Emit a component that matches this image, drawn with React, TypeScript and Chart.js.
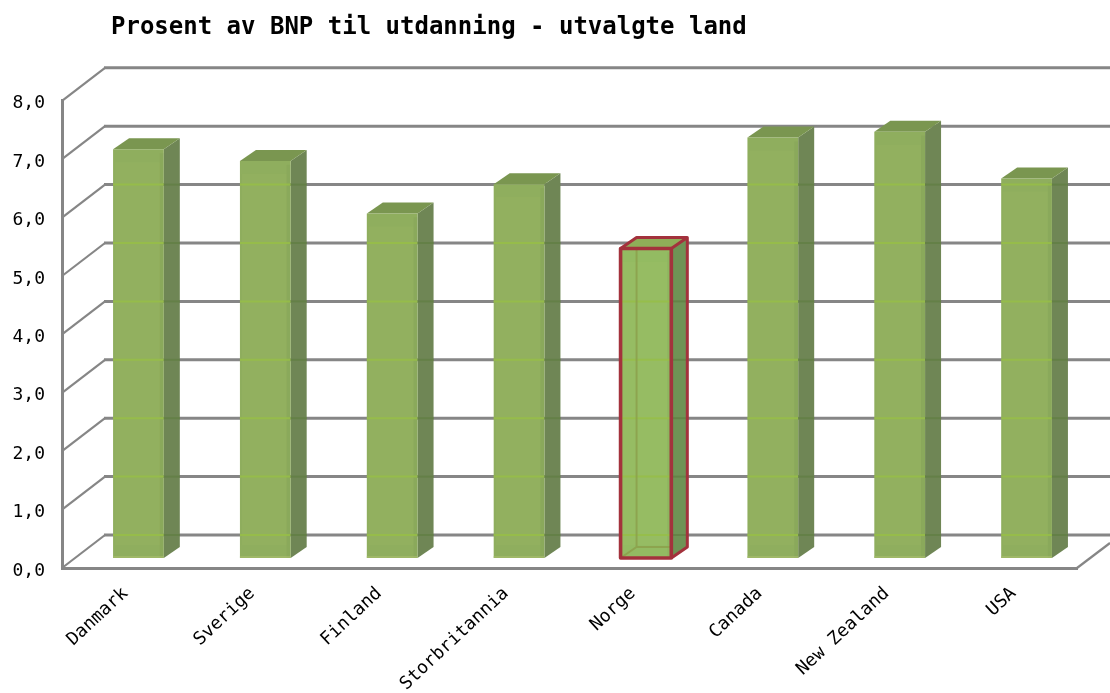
import React, { useEffect, useRef } from "react";
import { Chart, registerables } from "chart.js";

Chart.register(...registerables);

const TITLE = "Prosent av BNP til utdanning - utvalgte land";
const categories = ["Danmark", "Sverige", "Finland", "Storbritannia", "Norge", "Canada", "New Zealand", "USA"];
const values = [7.0, 6.8, 5.9, 6.4, 5.3, 7.2, 7.3, 6.5];
const highlighted = "Norge";

const FONT = "'DejaVu Sans Mono', monospace";
const GRID = "#868686";
const FRONT = "#8fae5e";
const FRONT_H = "#93bb62";
const SIDE = "#6f8655";
const SIDE_H = "#6f9355";
const TOP = "#7a9650";
const TOP_H = "#8fae58";
const RED = "#a3323c";
const WALL_DX = 43;
const WALL_DY = -33;
const BAR_SHIFT_X = 13;
const BAR_SHIFT_Y = -10;
const BOX_DX = 16;
const BOX_DY = -11;

const box3d = {
  id: "box3d",
  afterLayout(chart: any) {
    if (chart.titleBlock) chart.titleBlock.left = 111;
  },
  beforeDatasetsDraw(chart: any) {
    const { ctx, scales } = chart;
    const y = scales.y;
    const x = scales.x;
    ctx.save();
    ctx.strokeStyle = GRID;
    y.ticks.forEach((t: any) => {
      const py = y.getPixelForValue(t.value);
      ctx.lineWidth = 2.2;
      ctx.beginPath();
      ctx.moveTo(x.left, py);
      ctx.lineTo(x.left + WALL_DX, py + WALL_DY);
      ctx.stroke();
      ctx.lineWidth = 3;
      ctx.beginPath();
      ctx.moveTo(x.left + WALL_DX - 1, py + WALL_DY);
      ctx.lineTo(x.right + 33, py + WALL_DY);
      ctx.stroke();
    });
    const py0 = y.getPixelForValue(0);
    ctx.lineWidth = 2.2;
    ctx.beginPath();
    ctx.moveTo(x.right, py0);
    ctx.lineTo(x.right + 33, py0 - 25);
    ctx.stroke();
    ctx.restore();
  },
  beforeDatasetDraw(chart: any) {
    const { ctx } = chart;
    const meta = chart.getDatasetMeta(0);
    meta.data.forEach((el: any, i: number) => {
      const hi = categories[i] === highlighted;
      const l = el.x - el.width / 2 + BAR_SHIFT_X;
      const r = l + el.width;
      const t = el.y + BAR_SHIFT_Y;
      const b = el.base + BAR_SHIFT_Y;
      ctx.fillStyle = hi ? SIDE_H : SIDE;
      ctx.beginPath();
      ctx.moveTo(r, t);
      ctx.lineTo(r + BOX_DX, t + BOX_DY);
      ctx.lineTo(r + BOX_DX, b + BOX_DY);
      ctx.lineTo(r, b);
      ctx.closePath();
      ctx.fill();
      ctx.fillStyle = hi ? TOP_H : TOP;
      ctx.beginPath();
      ctx.moveTo(l, t);
      ctx.lineTo(l + BOX_DX, t + BOX_DY);
      ctx.lineTo(r + BOX_DX, t + BOX_DY);
      ctx.lineTo(r, t);
      ctx.closePath();
      ctx.fill();
    });
    ctx.save();
    ctx.translate(BAR_SHIFT_X, BAR_SHIFT_Y);
  },
  afterDatasetDraw(chart: any) {
    const { ctx, scales } = chart;
    ctx.restore();
    const meta = chart.getDatasetMeta(0);
    meta.data.forEach((el: any, i: number) => {
      const hi = categories[i] === highlighted;
      const l = el.x - el.width / 2 + BAR_SHIFT_X;
      const r = l + el.width;
      const t = el.y + BAR_SHIFT_Y;
      const b = el.base + BAR_SHIFT_Y;
      ctx.save();
      ctx.fillStyle = "rgba(170,200,110,0.12)";
      ctx.fillRect(l + 2, t + 13, el.width - 6, b - t - 26);
      ctx.fillStyle = "rgba(90,120,60,0.08)";
      ctx.fillRect(r - 4, t + 4, 4, b - t - 4);
      ctx.lineWidth = 2;
      scales.y.ticks.forEach((tk: any) => {
        const py = scales.y.getPixelForValue(tk.value) + WALL_DY;
        if (py > t + 1 && py < b) {
          ctx.strokeStyle = "rgba(150,190,70,0.85)";
          ctx.beginPath();
          ctx.moveTo(l, py);
          ctx.lineTo(r, py);
          ctx.stroke();
          ctx.strokeStyle = "rgba(95,125,65,0.7)";
          ctx.beginPath();
          ctx.moveTo(r, py);
          ctx.lineTo(r + BOX_DX, py);
          ctx.stroke();
        }
      });
      ctx.strokeStyle = "rgba(170,190,110,0.8)";
      ctx.lineWidth = 1.5;
      ctx.beginPath();
      ctx.moveTo(l, b - 1);
      ctx.lineTo(r, b - 1);
      ctx.stroke();
      if (hi) {
        ctx.strokeStyle = "rgba(140,160,75,0.85)";
        ctx.lineWidth = 2;
        ctx.beginPath();
        ctx.moveTo(l, b);
        ctx.lineTo(l + BOX_DX, b + BOX_DY);
        ctx.lineTo(r, b + BOX_DY);
        ctx.moveTo(l + BOX_DX, b + BOX_DY);
        ctx.lineTo(l + BOX_DX, t);
        ctx.stroke();
        ctx.strokeStyle = RED;
        ctx.lineWidth = 3.6;
        ctx.lineJoin = "round";
        ctx.strokeRect(l, t, el.width, b - t);
        ctx.lineWidth = 3;
        ctx.beginPath();
        ctx.moveTo(l, t);
        ctx.lineTo(l + BOX_DX, t + BOX_DY);
        ctx.lineTo(r + BOX_DX, t + BOX_DY);
        ctx.lineTo(r + BOX_DX, b + BOX_DY);
        ctx.lineTo(r, b);
        ctx.moveTo(r, t);
        ctx.lineTo(r + BOX_DX, t + BOX_DY);
        ctx.stroke();
      }
      ctx.restore();
    });
  },
};

export default function App() {
  const ref = useRef<HTMLCanvasElement | null>(null);
  useEffect(() => {
    if (!ref.current) return;
    const chart = new Chart(ref.current, {
      type: "bar",
      data: {
        labels: categories,
        datasets: [
          {
            data: values,
            backgroundColor: categories.map((c) => (c === highlighted ? FRONT_H : FRONT)),
            borderWidth: 0,
            barPercentage: 0.4,
            categoryPercentage: 1,
          },
        ],
      },
      options: {
        responsive: false,
        animation: false,
        layout: { padding: { top: 0, right: 33, bottom: 0, left: 0 } },
        plugins: {
          legend: { display: false },
          tooltip: { enabled: false },
          title: {
            display: true,
            text: TITLE,
            align: "start",
            color: "#000000",
            font: { family: FONT, size: 24, weight: "bold" },
            padding: { top: 13, bottom: 59 },
          },
        },
        scales: {
          x: {
            grid: { display: false, drawTicks: false },
            border: { display: true, color: GRID, width: 3 },
            ticks: {
              autoSkip: false,
              maxRotation: 43,
              minRotation: 43,
              padding: 15,
              color: "#000000",
              font: { family: FONT, size: 18 },
            },
            afterFit(s: any) {
              s.height = 693 - 568;
            },
          },
          y: {
            min: 0,
            max: 8,
            grid: { display: false, drawTicks: false },
            border: { display: true, color: GRID, width: 3 },
            ticks: {
              stepSize: 1,
              padding: 17,
              labelOffset: 3,
              color: "#000000",
              font: { family: FONT, size: 18 },
              callback: (v: any) => Number(v).toFixed(1).replace(".", ","),
            },
            afterFit(s: any) {
              s.width = 62;
            },
          },
        },
      },
      plugins: [box3d],
    } as any);
    return () => chart.destroy();
  }, []);
  return (
    <canvas
      ref={ref}
      width={1110}
      height={693}
      style={{ position: "absolute", left: 0, top: 0, display: "block", filter: "blur(0.4px)" }}
    />
  );
}
